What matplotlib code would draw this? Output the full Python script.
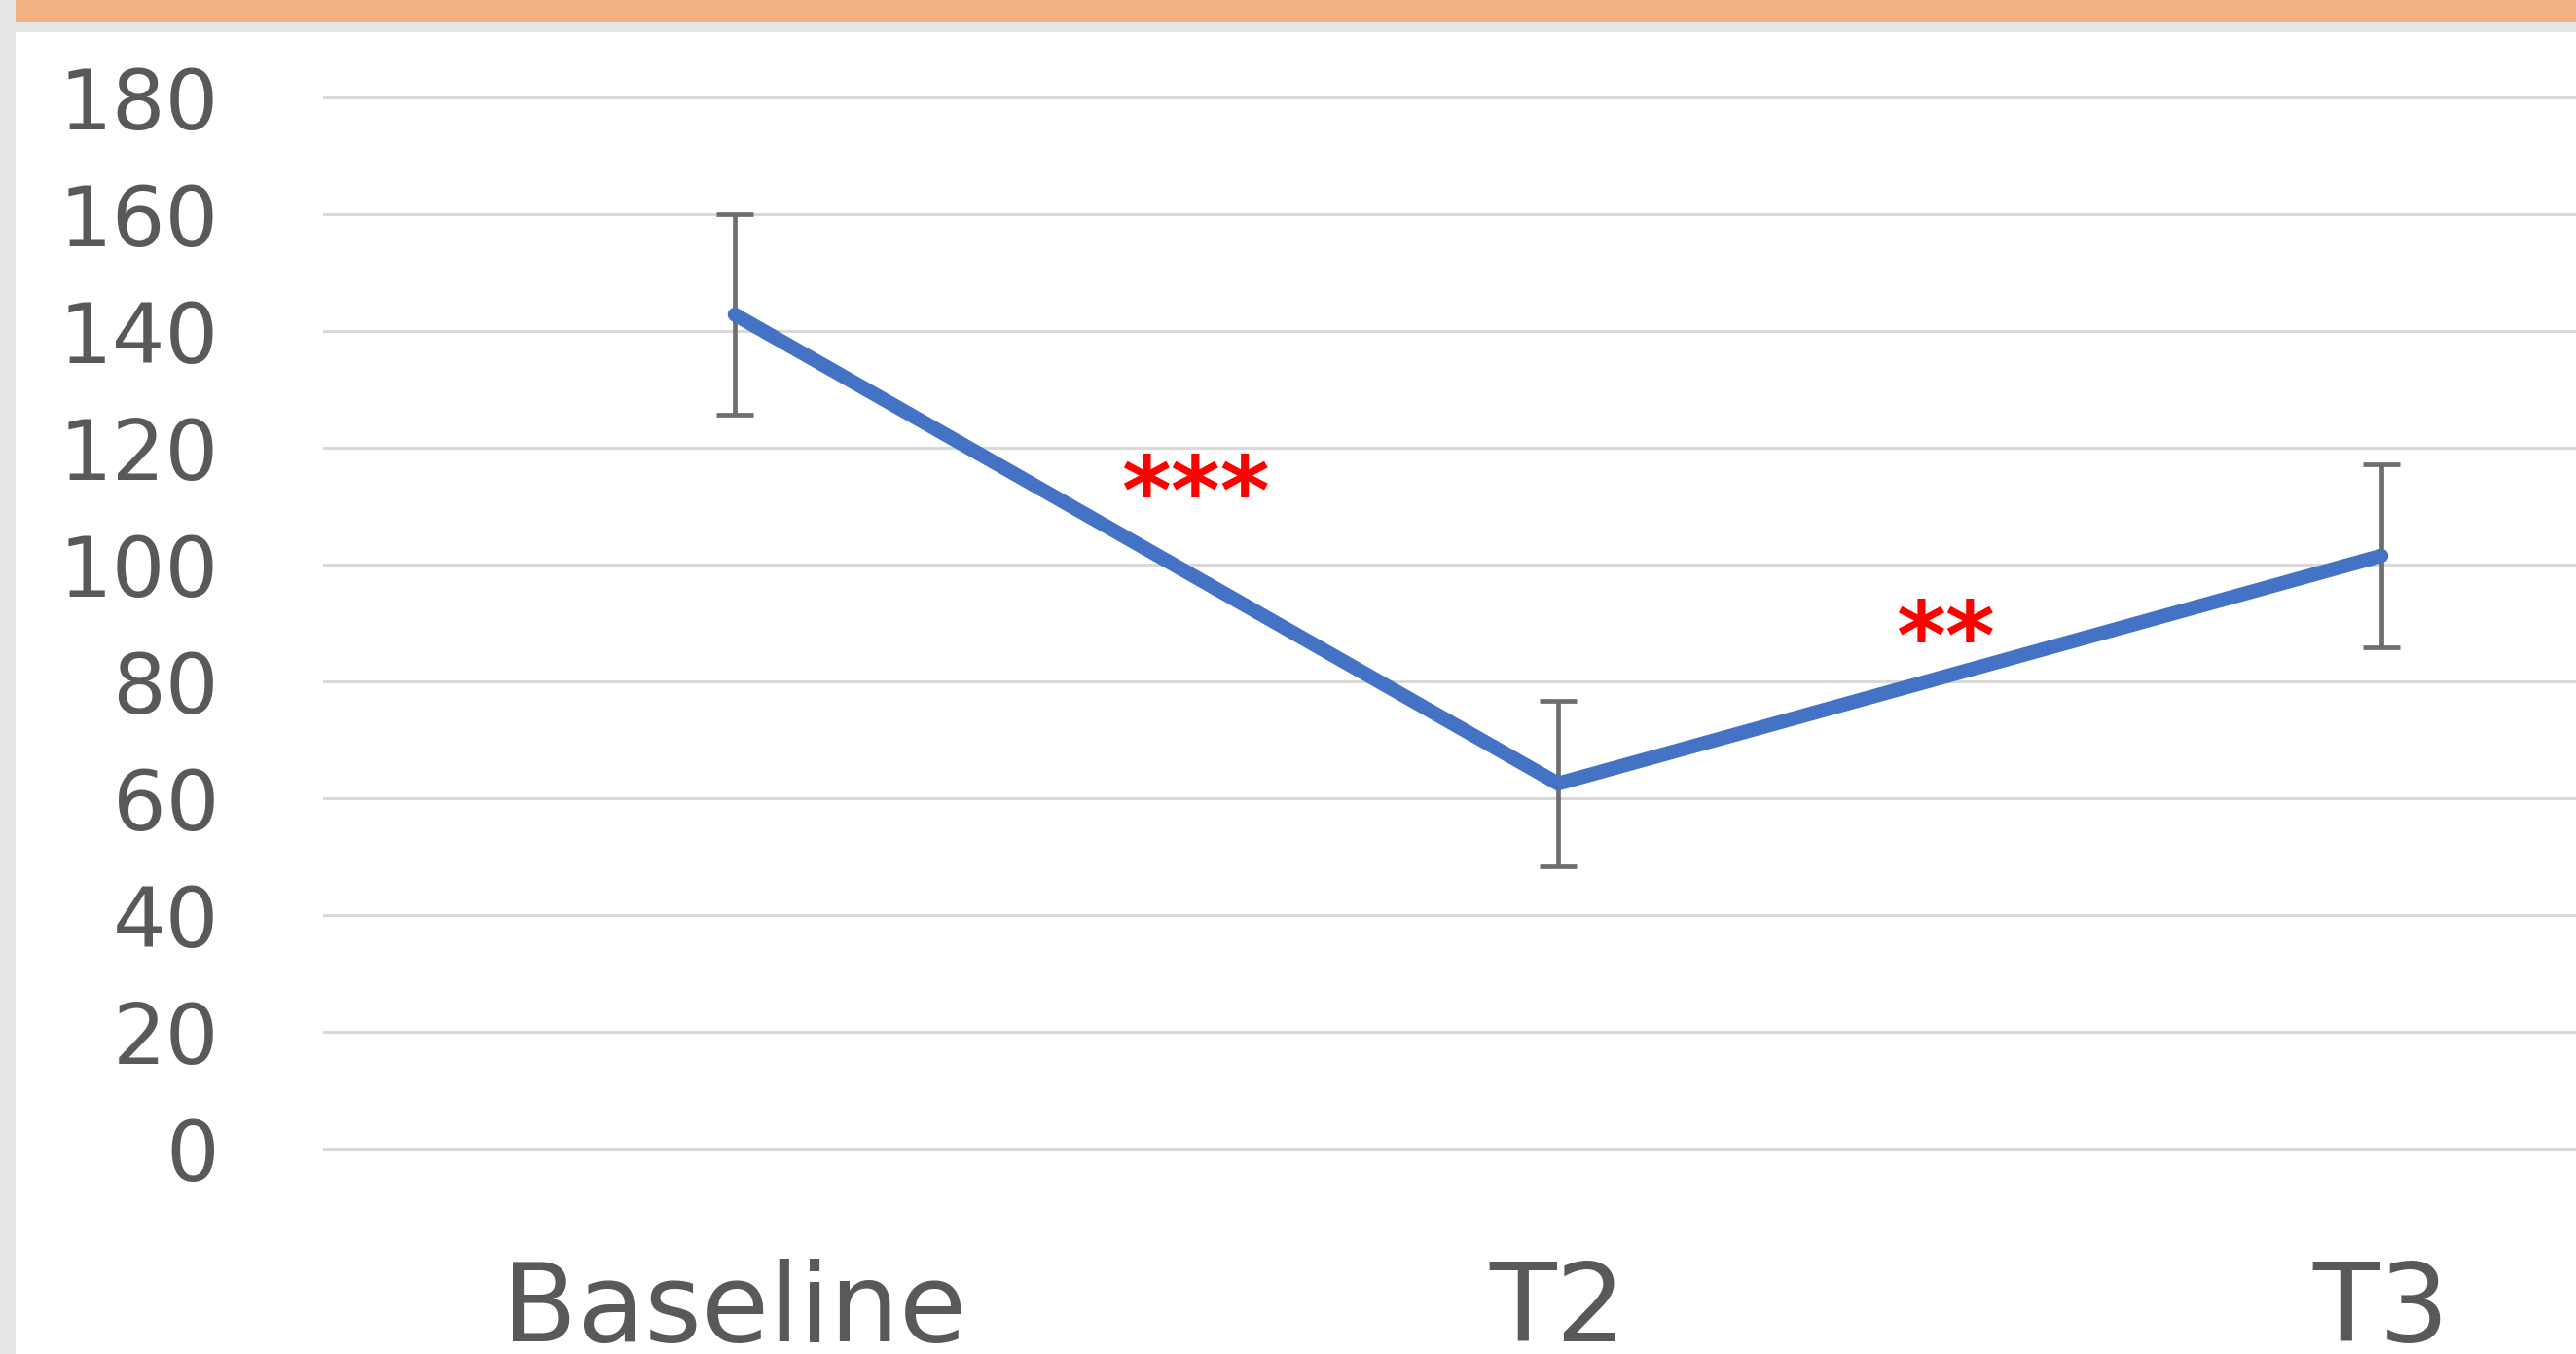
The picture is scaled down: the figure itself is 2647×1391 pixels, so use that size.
import matplotlib
matplotlib.use("Agg")
import matplotlib.pyplot as plt
from matplotlib.patches import Rectangle

# ---- data ----
categories = ["Baseline", "T2", "T3"]
means = [142.8, 62.5, 101.5]
errors = [17.2, 14.2, 15.6]
yticks = [0, 20, 40, 60, 80, 100, 120, 140, 160, 180]
sig_labels = ["***", "**"]
sig_x = [0.56, 1.47]
sig_y = [107.0, 82.2]

W, H = 2647, 1391
DPI = 100
fig = plt.figure(figsize=(W / DPI, H / DPI), dpi=DPI)
fig.patch.set_facecolor("#E5E5E5")

# white panel and orange header band
fig.add_artist(Rectangle((16 / W, 0), 1 - 16 / W, 1 - 33 / H,
                         transform=fig.transFigure, facecolor="white",
                         edgecolor="none", zorder=0))
fig.add_artist(Rectangle((16 / W, 1 - 23 / H), 1 - 16 / W, 23 / H,
                         transform=fig.transFigure, facecolor="#F4B183",
                         edgecolor="none", zorder=0))

# axes geometry (pixels): left 332, y=0 at 1180, 6 px per unit
px_per_unit = 6.0
y_lo, y_hi = -0.6, 180.6
bottom_px = 1180 + (-y_lo) * px_per_unit
top_px = 1180 - y_hi * px_per_unit
left_px = 332
band = 846.0
x_lo = -0.5
x_hi = x_lo + (W - left_px) / band

ax = fig.add_axes([left_px / W, 1 - bottom_px / H,
                   (W - left_px) / W, (bottom_px - top_px) / H])
ax.set_facecolor("none")
ax.set_xlim(x_lo, x_hi)
ax.set_ylim(y_lo, y_hi)

for s in ax.spines.values():
    s.set_visible(False)

ax.set_yticks(yticks)
ax.set_yticklabels([str(v) for v in yticks])
ax.yaxis.grid(True, color="#D9D9D9", linewidth=2.2)
ax.set_axisbelow(True)

xs = list(range(len(categories)))
ax.set_xticks(xs)
ax.set_xticklabels(categories)

ax.tick_params(axis="y", length=0, pad=77, labelsize=62, labelcolor="#595959")
ax.tick_params(axis="x", length=0, pad=140, labelsize=81, labelcolor="#595959")
for lbl in ax.get_xticklabels():
    lbl.set_va("baseline")

ax.errorbar(xs, means, yerr=errors, fmt="none", ecolor="#6E6E6E",
            elinewidth=3.4, capsize=13.5, capthick=3.4, zorder=2)
ax.plot(xs, means, color="#4472C4", linewidth=10.5,
        solid_capstyle="round", solid_joinstyle="miter", zorder=3)

for t, x, y in zip(sig_labels, sig_x, sig_y):
    ax.text(x, y, t, color="#FF0000", fontsize=70, fontweight="bold",
            ha="center", va="baseline", zorder=4)

fig.savefig("out.png", dpi=DPI, facecolor=fig.get_facecolor())
